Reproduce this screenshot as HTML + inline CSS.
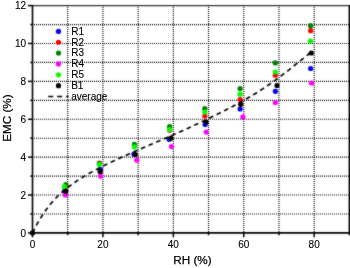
<!DOCTYPE html>
<html><head><meta charset="utf-8"><style>
html,body{margin:0;padding:0;background:#fff;}
body{width:350px;height:268px;overflow:hidden;}
svg{display:block;font-family:"Liberation Sans",sans-serif;}
#w{width:350px;height:268px;}
</style></head><body><div id="w">
<svg width="350" height="268" viewBox="0 0 350 268">
<defs><filter id="bl" x="0" y="0" width="350" height="268" filterUnits="userSpaceOnUse" color-interpolation-filters="sRGB"><feConvolveMatrix order="3" kernelMatrix="1 2 1 2 16 2 1 2 1" divisor="28" edgeMode="duplicate"/></filter><filter id="id" x="0" y="0" width="350" height="268" filterUnits="userSpaceOnUse"><feOffset dx="0" dy="0"/></filter></defs>
<g filter="url(#bl)">
<rect width="350" height="268" fill="#fff"/>
<g stroke="#000" stroke-width="1.15" stroke-dasharray="1 1" stroke-opacity="1">
<line x1="32" y1="213.96" x2="349.39" y2="213.96"/><line x1="32" y1="195.02" x2="349.39" y2="195.02"/><line x1="32" y1="176.08" x2="349.39" y2="176.08"/><line x1="32" y1="157.14" x2="349.39" y2="157.14"/><line x1="32" y1="138.20" x2="349.39" y2="138.20"/><line x1="32" y1="119.26" x2="349.39" y2="119.26"/><line x1="32" y1="100.32" x2="349.39" y2="100.32"/><line x1="32" y1="81.38" x2="349.39" y2="81.38"/><line x1="32" y1="62.44" x2="349.39" y2="62.44"/><line x1="32" y1="43.50" x2="349.39" y2="43.50"/><line x1="32" y1="24.56" x2="349.39" y2="24.56"/><line x1="67.71" y1="5" x2="67.71" y2="232.90"/><line x1="102.92" y1="5" x2="102.92" y2="232.90"/><line x1="138.13" y1="5" x2="138.13" y2="232.90"/><line x1="173.34" y1="5" x2="173.34" y2="232.90"/><line x1="208.55" y1="5" x2="208.55" y2="232.90"/><line x1="243.76" y1="5" x2="243.76" y2="232.90"/><line x1="278.97" y1="5" x2="278.97" y2="232.90"/><line x1="314.18" y1="5" x2="314.18" y2="232.90"/>
</g>
<g stroke="#000" stroke-width="1.5">
<line x1="28.0" y1="232.90" x2="32.5" y2="232.90"/><line x1="30.3" y1="213.96" x2="32.5" y2="213.96"/><line x1="28.0" y1="195.02" x2="32.5" y2="195.02"/><line x1="30.3" y1="176.08" x2="32.5" y2="176.08"/><line x1="28.0" y1="157.14" x2="32.5" y2="157.14"/><line x1="30.3" y1="138.20" x2="32.5" y2="138.20"/><line x1="28.0" y1="119.26" x2="32.5" y2="119.26"/><line x1="30.3" y1="100.32" x2="32.5" y2="100.32"/><line x1="28.0" y1="81.38" x2="32.5" y2="81.38"/><line x1="30.3" y1="62.44" x2="32.5" y2="62.44"/><line x1="28.0" y1="43.50" x2="32.5" y2="43.50"/><line x1="30.3" y1="24.56" x2="32.5" y2="24.56"/><line x1="28.0" y1="5.62" x2="32.5" y2="5.62"/><line x1="32.50" y1="232.9" x2="32.50" y2="237.3"/><line x1="67.71" y1="232.9" x2="67.71" y2="235.2"/><line x1="102.92" y1="232.9" x2="102.92" y2="237.3"/><line x1="138.13" y1="232.9" x2="138.13" y2="235.2"/><line x1="173.34" y1="232.9" x2="173.34" y2="237.3"/><line x1="208.55" y1="232.9" x2="208.55" y2="235.2"/><line x1="243.76" y1="232.9" x2="243.76" y2="237.3"/><line x1="278.97" y1="232.9" x2="278.97" y2="235.2"/><line x1="314.18" y1="232.9" x2="314.18" y2="237.3"/><line x1="349.39" y1="232.9" x2="349.39" y2="235.2"/>
</g>
<g stroke="#000">
<line x1="32.5" y1="5.02" x2="32.5" y2="232.90" stroke-width="1.6"/>
<line x1="31.7" y1="232.90" x2="350.09" y2="232.90" stroke-width="1.7"/>
<line x1="32.5" y1="5.7" x2="350" y2="5.7" stroke-width="1.2" stroke-opacity="0.8"/>
<line x1="349.3" y1="5.1" x2="349.3" y2="232.90" stroke-width="1.4"/>
</g>
<g>
<circle cx="64.6" cy="191.0" r="2.6" fill="#0000ff"/><circle cx="100.4" cy="169.6" r="2.6" fill="#0000ff"/><circle cx="133.9" cy="154.1" r="2.6" fill="#0000ff"/><circle cx="169.1" cy="139.3" r="2.6" fill="#0000ff"/><circle cx="205.1" cy="124.4" r="2.6" fill="#0000ff"/><circle cx="240.1" cy="109.0" r="2.6" fill="#0000ff"/><circle cx="275.4" cy="91.3" r="2.6" fill="#0000ff"/><circle cx="310.6" cy="68.5" r="2.6" fill="#0000ff"/><circle cx="65.2" cy="187.5" r="2.6" fill="#ff0000"/><circle cx="99.4" cy="163.2" r="2.6" fill="#ff0000"/><circle cx="134.4" cy="146.0" r="2.6" fill="#ff0000"/><circle cx="169.6" cy="130.2" r="2.6" fill="#ff0000"/><circle cx="204.8" cy="116.0" r="2.6" fill="#ff0000"/><circle cx="240.1" cy="99.6" r="2.6" fill="#ff0000"/><circle cx="275.3" cy="75.2" r="2.6" fill="#ff0000"/><circle cx="310.6" cy="30.7" r="2.6" fill="#ff0000"/><circle cx="65.8" cy="184.5" r="2.6" fill="#008000"/><circle cx="99.4" cy="163.8" r="2.6" fill="#008000"/><circle cx="134.4" cy="144.3" r="2.6" fill="#008000"/><circle cx="169.6" cy="126.7" r="2.6" fill="#008000"/><circle cx="204.8" cy="108.7" r="2.6" fill="#008000"/><circle cx="240.1" cy="88.6" r="2.6" fill="#008000"/><circle cx="275.3" cy="62.9" r="2.6" fill="#008000"/><circle cx="310.6" cy="25.7" r="2.6" fill="#008000"/><circle cx="65.5" cy="194.9" r="2.6" fill="#ff00ff"/><circle cx="100.5" cy="176.1" r="2.6" fill="#ff00ff"/><circle cx="136.8" cy="160.2" r="2.6" fill="#ff00ff"/><circle cx="171.5" cy="146.6" r="2.6" fill="#ff00ff"/><circle cx="206.2" cy="132.1" r="2.6" fill="#ff00ff"/><circle cx="242.9" cy="116.9" r="2.6" fill="#ff00ff"/><circle cx="275.3" cy="102.6" r="2.6" fill="#ff00ff"/><circle cx="311.5" cy="83.0" r="2.6" fill="#ff00ff"/><circle cx="64.4" cy="186.9" r="2.6" fill="#00ff00"/><circle cx="99.4" cy="164.6" r="2.6" fill="#00ff00"/><circle cx="134.4" cy="146.9" r="2.6" fill="#00ff00"/><circle cx="169.6" cy="129.5" r="2.6" fill="#00ff00"/><circle cx="204.8" cy="112.1" r="2.6" fill="#00ff00"/><circle cx="240.1" cy="94.2" r="2.6" fill="#00ff00"/><circle cx="275.3" cy="72.0" r="2.6" fill="#00ff00"/><circle cx="310.4" cy="41.1" r="2.6" fill="#00ff00"/><circle cx="32.5" cy="232.9" r="2.6" fill="#000000"/><circle cx="65.8" cy="191.2" r="2.6" fill="#000000"/><circle cx="100.1" cy="171.4" r="2.6" fill="#000000"/><circle cx="135.3" cy="154.5" r="2.6" fill="#000000"/><circle cx="170.8" cy="138.2" r="2.6" fill="#000000"/><circle cx="206.1" cy="122.1" r="2.6" fill="#000000"/><circle cx="240.6" cy="104.3" r="2.6" fill="#000000"/><circle cx="277.0" cy="85.5" r="2.6" fill="#000000"/><circle cx="311.3" cy="53.0" r="2.6" fill="#000000"/>
<circle cx="58.5" cy="31.40" r="2.6" fill="#0000ff"/><circle cx="58.5" cy="42.25" r="2.6" fill="#ff0000"/><circle cx="58.5" cy="53.10" r="2.6" fill="#008000"/><circle cx="58.5" cy="63.95" r="2.6" fill="#ff00ff"/><circle cx="58.5" cy="74.80" r="2.6" fill="#00ff00"/><circle cx="58.5" cy="85.65" r="2.6" fill="#000000"/><line x1="48.2" y1="96.50" x2="68.5" y2="96.50" stroke="#000" stroke-width="1.5" stroke-dasharray="5 4"/>
</g>
<path d="M32.50,232.89 L33.77,230.32 L35.04,227.85 L36.32,225.46 L37.59,223.16 L38.86,220.95 L40.13,218.81 L41.40,216.76 L42.67,214.78 L43.95,212.87 L45.22,211.03 L46.49,209.26 L47.76,207.56 L49.03,205.92 L50.30,204.34 L51.58,202.82 L52.85,201.36 L54.12,199.95 L55.39,198.59 L56.66,197.28 L57.93,196.01 L59.21,194.79 L60.48,193.60 L61.75,192.46 L63.02,191.35 L64.29,190.28 L65.56,189.23 L66.84,188.22 L68.11,187.23 L69.38,186.26 L70.65,185.31 L71.92,184.38 L73.19,183.48 L74.47,182.58 L75.74,181.71 L77.01,180.85 L78.28,180.01 L79.55,179.18 L80.82,178.37 L82.10,177.58 L83.37,176.79 L84.64,176.02 L85.91,175.27 L87.18,174.52 L88.45,173.79 L89.73,173.07 L91.00,172.36 L92.27,171.66 L93.54,170.97 L94.81,170.29 L96.08,169.62 L97.36,168.95 L98.63,168.30 L99.90,167.65 L101.17,167.00 L102.44,166.36 L103.71,165.73 L104.99,165.11 L106.26,164.48 L107.53,163.87 L108.80,163.25 L110.07,162.64 L111.34,162.04 L112.62,161.43 L113.89,160.83 L115.16,160.24 L116.43,159.65 L117.70,159.06 L118.97,158.48 L120.25,157.89 L121.52,157.31 L122.79,156.74 L124.06,156.17 L125.33,155.59 L126.61,155.03 L127.88,154.46 L129.15,153.90 L130.42,153.34 L131.69,152.78 L132.96,152.22 L134.24,151.66 L135.51,151.11 L136.78,150.56 L138.05,150.01 L139.32,149.46 L140.59,148.91 L141.87,148.36 L143.14,147.81 L144.41,147.27 L145.68,146.72 L146.95,146.18 L148.22,145.64 L149.50,145.09 L150.77,144.55 L152.04,144.01 L153.31,143.46 L154.58,142.92 L155.85,142.38 L157.13,141.83 L158.40,141.29 L159.67,140.75 L160.94,140.20 L162.21,139.65 L163.48,139.11 L164.76,138.56 L166.03,138.01 L167.30,137.46 L168.57,136.91 L169.84,136.35 L171.11,135.80 L172.39,135.24 L173.66,134.68 L174.93,134.12 L176.20,133.56 L177.47,132.99 L178.74,132.42 L180.02,131.85 L181.29,131.28 L182.56,130.71 L183.83,130.13 L185.10,129.55 L186.37,128.97 L187.65,128.39 L188.92,127.81 L190.19,127.22 L191.46,126.63 L192.73,126.04 L194.00,125.45 L195.28,124.85 L196.55,124.25 L197.82,123.65 L199.09,123.05 L200.36,122.45 L201.63,121.84 L202.91,121.24 L204.18,120.63 L205.45,120.02 L206.72,119.40 L207.99,118.79 L209.26,118.17 L210.54,117.55 L211.81,116.93 L213.08,116.31 L214.35,115.69 L215.62,115.06 L216.89,114.43 L218.17,113.80 L219.44,113.17 L220.71,112.54 L221.98,111.90 L223.25,111.26 L224.53,110.62 L225.80,109.98 L227.07,109.33 L228.34,108.67 L229.61,108.02 L230.88,107.36 L232.16,106.69 L233.43,106.02 L234.70,105.35 L235.97,104.67 L237.24,103.99 L238.51,103.30 L239.79,102.60 L241.06,101.90 L242.33,101.19 L243.60,100.48 L244.87,99.76 L246.14,99.03 L247.42,98.30 L248.69,97.56 L249.96,96.81 L251.23,96.05 L252.50,95.29 L253.77,94.51 L255.05,93.73 L256.32,92.94 L257.59,92.15 L258.86,91.34 L260.13,90.53 L261.40,89.71 L262.68,88.88 L263.95,88.04 L265.22,87.19 L266.49,86.34 L267.76,85.47 L269.03,84.60 L270.31,83.72 L271.58,82.83 L272.85,81.94 L274.12,81.03 L275.39,80.12 L276.66,79.20 L277.94,78.27 L279.21,77.33 L280.48,76.38 L281.75,75.43 L283.02,74.46 L284.29,73.49 L285.57,72.51 L286.84,71.53 L288.11,70.54 L289.38,69.54 L290.65,68.54 L291.92,67.53 L293.20,66.52 L294.47,65.50 L295.74,64.48 L297.01,63.46 L298.28,62.44 L299.55,61.42 L300.83,60.39 L302.10,59.37 L303.37,58.35 L304.64,57.32 L305.91,56.30 L307.18,55.28 L308.46,54.27 L309.73,53.26 L311.00,52.25" fill="none" stroke="#000" stroke-width="1.65" stroke-dasharray="4.6 3.7"/>
</g>
<g filter="url(#id)" fill="#000" stroke="#000" stroke-width="0.1">
<g font-size="10">
<text x="26" y="236.50" text-anchor="end">0</text><text x="26" y="198.62" text-anchor="end">2</text><text x="26" y="160.74" text-anchor="end">4</text><text x="26" y="122.86" text-anchor="end">6</text><text x="26" y="84.98" text-anchor="end">8</text><text x="26" y="47.10" text-anchor="end">10</text><text x="26" y="9.22" text-anchor="end">12</text><text x="32.50" y="247.6" text-anchor="middle">0</text><text x="102.92" y="247.6" text-anchor="middle">20</text><text x="173.34" y="247.6" text-anchor="middle">40</text><text x="243.76" y="247.6" text-anchor="middle">60</text><text x="314.18" y="247.6" text-anchor="middle">80</text>
<text x="71.2" y="34.70">R1</text><text x="71.2" y="45.55">R2</text><text x="71.2" y="56.40">R3</text><text x="71.2" y="67.25">R4</text><text x="71.2" y="78.10">R5</text><text x="71.2" y="88.95">B1</text><text x="71.2" y="99.80">average</text>
</g>
<text x="192.5" y="264.2" font-size="11.7" text-anchor="middle" stroke-width="0.25">RH (%)</text>
<text transform="translate(10.8,118.1) rotate(-90)" font-size="11.7" text-anchor="middle" stroke-width="0.25">EMC (%)</text>
</g>
</svg></div>
</body></html>
